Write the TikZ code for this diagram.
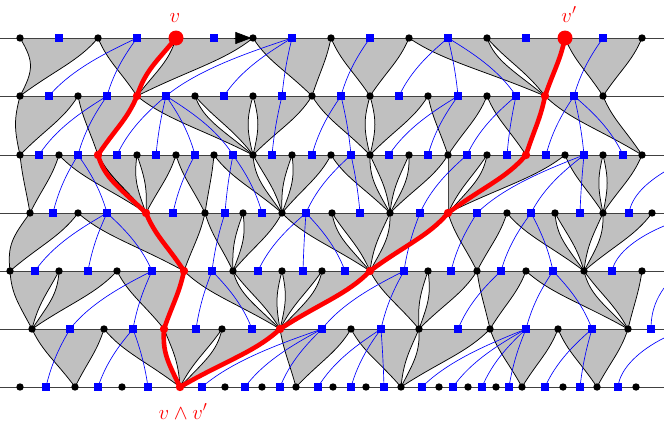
\documentclass[tikz,border=0pt]{standalone}
\usetikzlibrary{arrows.meta}
\pgfdeclarelayer{bg}
\pgfdeclarelayer{mid}
\pgfdeclarelayer{redl}
\pgfsetlayers{bg,mid,redl,main}
\definecolor{greyf}{RGB}{192,192,192}
\definecolor{bluesq}{RGB}{0,0,255}
\definecolor{redp}{RGB}{255,0,0}
\expandafter\def\csname yL1\endcsname{38}
\expandafter\def\csname yL2\endcsname{96}
\expandafter\def\csname yL3\endcsname{155}
\expandafter\def\csname yL4\endcsname{213}
\expandafter\def\csname yL5\endcsname{271}
\expandafter\def\csname yL6\endcsname{329}
\expandafter\def\csname yL7\endcsname{387}
\tikzset{
 dot/.style={circle,fill=black,inner sep=0pt,minimum size=7.4pt},
 reddot/.style={circle,fill=redp,inner sep=0pt,minimum size=8.4pt},
 bigred/.style={circle,fill=redp,inner sep=0pt,minimum size=15pt},
 sq/.style={rectangle,fill=bluesq,inner sep=0pt,minimum size=8pt},
 bedge/.style={black,line width=0.75pt},
 greyfill/.style={fill=greyf},
 hline/.style={black!75,line width=0.8pt},
 blueline/.style={bluesq,line width=0.65pt},
 redpath/.style={redp,line width=4.6pt,line cap=round},
 lab/.style={text=redp,font=\fontsize{22.5}{26}\selectfont,inner sep=0pt,anchor=base}
}
% controls of an edge from top x #2 on line #1 to bottom x #3, shift #4
\newcommand\edgectl[4]{%
  \pgfmathsetmacro\yt{\csname yL#1\endcsname}%
  \pgfmathtruncatemacro\lb{#1+1}%
  \pgfmathsetmacro\yb{\csname yL\lb\endcsname}%
  \pgfmathsetmacro\hh{\yb-\yt}%
  \pgfmathsetmacro\cax{#2+0.25*(#3-#2)+#4}%
  \pgfmathsetmacro\cay{\yt+0.4*\hh}%
  \pgfmathsetmacro\ccx{#3+0.45*(#2-#3)+#4}%
  \pgfmathsetmacro\ccy{\yb-0.45*\hh}%
}
\newcommand\gtri[6]{%
  \edgectl{#1}{#2}{#4}{#5}%
  \let\aax\cax\let\aay\cay\let\acx\ccx\let\acy\ccy
  \edgectl{#1}{#3}{#4}{#6}%
  \let\bax\cax\let\bcx\ccx
  \begin{pgfonlayer}{bg}%
    \fill[greyfill] (d#1-#2.center) -- (d#1-#3.center) .. controls (\bax,\aay) and (\bcx,\acy) .. (d\lb-#4.center) .. controls (\acx,\acy) and (\aax,\aay) .. (d#1-#2.center) -- cycle;%
  \end{pgfonlayer}%
  \begin{pgfonlayer}{mid}%
    \draw[bedge] (d#1-#2.center) .. controls (\aax,\aay) and (\acx,\acy) .. (d\lb-#4.center);%
    \draw[bedge] (d#1-#3.center) .. controls (\bax,\aay) and (\bcx,\acy) .. (d\lb-#4.center);%
  \end{pgfonlayer}%
}
\newcommand\rseg[4]{%
  \edgectl{#1}{#2}{#3}{#4}%
  \begin{pgfonlayer}{redl}%
    \draw[redpath] (d#1-#2.center) .. controls (\cax,\cay) and (\ccx,\ccy) .. (d\lb-#3.center);%
  \end{pgfonlayer}%
}
\newcommand\bl[3]{%
  \pgfmathsetmacro\yt{\csname yL#1\endcsname}%
  \pgfmathtruncatemacro\lb{#1+1}%
  \pgfmathsetmacro\yb{\csname yL\lb\endcsname}%
  \pgfmathsetmacro\hh{\yb-\yt}%
  \pgfmathsetmacro\pax{#2+0.35*(#3-#2)}%
  \pgfmathsetmacro\pay{\yt+0.25*\hh}%
  \pgfmathsetmacro\pcx{#3+0.25*(#2-#3)}%
  \pgfmathsetmacro\pcy{\yb-0.45*\hh}%
  \begin{pgfonlayer}{mid}%
    \draw[blueline] (s#1-#2.center) .. controls (\pax,\pay) and (\pcx,\pcy) .. (s\lb-#3.center);%
  \end{pgfonlayer}%
}
\begin{document}
\begin{tikzpicture}[x=1pt,y=-1pt]
\useasboundingbox (0,0) rectangle (664,423);
% ---- dots
\foreach \x in {20,98,253,331,409,487,642} \node[dot] (d1-\x) at (\x,38) {};
\foreach \x in {176,565} \node[bigred] (d1-\x) at (\x,38) {};
\foreach \x in {20,78,195,253,312,370,428,487,603} \node[dot] (d2-\x) at (\x,96) {};
\foreach \x in {137,545} \node[reddot] (d2-\x) at (\x,96) {};
\foreach \x in {20,59,137,176,214,253,292,331,370,409,448,487,565,603,642} \node[dot] (d3-\x) at (\x,155) {};
\foreach \x in {98,526} \node[reddot] (d3-\x) at (\x,155) {};
\foreach \x in {30,78,205,243,282,332,390,507,555,603,652} \node[dot] (d4-\x) at (\x,213) {};
\foreach \x in {146,448} \node[reddot] (d4-\x) at (\x,213) {};
\foreach \x in {10,59,117,233,282,322,428,477,526,584,642} \node[dot] (d5-\x) at (\x,271) {};
\foreach \x in {184,370} \node[reddot] (d5-\x) at (\x,271) {};
\foreach \x in {32,104,222,351,419,490,558,628} \node[dot] (d6-\x) at (\x,329) {};
\foreach \x in {164,280} \node[reddot] (d6-\x) at (\x,329) {};
\foreach \x in {20,75,122,225,262,296,333,366,401,439,468,496,522,563,597,636} \node[dot] (d7-\x) at (\x,387) {};
\node[reddot] (d7-180) at (180,387) {};
% ---- squares
\foreach \x in {59,137,214,292,370,448,526,603} \node[sq] (s1-\x) at (\x,38) {};
\foreach \x in {49,107,166,224,282,341,399,458,516,574} \node[sq] (s2-\x) at (\x,96) {};
\foreach \x in {39,78,117,156,195,233,272,312,351,389,428,467,507,546,584,623} \node[sq] (s3-\x) at (\x,155) {};
\foreach \x in {53,107,173,225,262,306,360,420,477,531,580,629} \node[sq] (s4-\x) at (\x,213) {};
\foreach \x in {35,88,152,212,258,303,345,404,451,501,553,612} \node[sq] (s5-\x) at (\x,271) {};
\foreach \x in {70,133,196,252,322,381,458,526,592,651} \node[sq] (s6-\x) at (\x,329) {};
\foreach \x in {46,98,148,202,245,280,318,351,384,422,453,482,509,545,580,618} \node[sq] (s7-\x) at (\x,387) {};
% ---- grey triangles and black edges
\gtri{1}{20}{98}{20}{14}{0}
\gtri{1}{98}{176}{137}{0}{-9}
\gtri{1}{176}{253}{137}{3}{0}
\gtri{1}{253}{331}{312}{0}{0}
\gtri{1}{331}{409}{370}{0}{0}
\gtri{1}{409}{487}{545}{0}{-6}
\gtri{1}{487}{565}{545}{6}{0}
\gtri{1}{565}{642}{603}{0}{0}
%
\gtri{2}{20}{78}{20}{-6}{0}
\gtri{2}{78}{137}{98}{0}{0}
\gtri{2}{137}{195}{253}{0}{-6}
\gtri{2}{195}{253}{253}{6}{-6.5}
\gtri{2}{253}{312}{253}{6.5}{0}
\gtri{2}{312}{370}{370}{0}{-6.5}
\gtri{2}{370}{428}{370}{6.5}{0}
\gtri{2}{428}{487}{448}{0}{0}
\gtri{2}{487}{545}{526}{0}{0}
\gtri{2}{545}{603}{642}{0}{0}
%
\gtri{3}{20}{59}{30}{0}{0}
\gtri{3}{59}{98}{146}{0}{0}
\gtri{3}{98}{137}{146}{0}{-5.5}
\gtri{3}{137}{176}{146}{5.5}{0}
\gtri{3}{176}{214}{205}{0}{0}
\gtri{3}{214}{253}{282}{0}{-5.5}
\gtri{3}{253}{292}{282}{5.5}{-5.5}
\gtri{3}{292}{331}{282}{5.5}{0}
\gtri{3}{331}{370}{390}{0}{-5.5}
\gtri{3}{370}{409}{390}{5.5}{-5.5}
\gtri{3}{409}{448}{390}{5.5}{0}
\gtri{3}{448}{487}{448}{0}{-5.5}
\gtri{3}{487}{526}{448}{5.5}{0}
\gtri{3}{526}{565}{448}{0}{0}
\gtri{3}{565}{603}{603}{0}{-5.5}
\gtri{3}{603}{642}{603}{5.5}{0}
%
\gtri{4}{30}{78}{10}{-12}{0}
\gtri{4}{78}{146}{184}{0}{0}
\gtri{4}{146}{205}{184}{0}{0}
\gtri{4}{205}{243}{233}{0}{-5.5}
\gtri{4}{243}{282}{233}{5.5}{0}
\gtri{4}{282}{332}{370}{0}{-5.5}
\gtri{4}{332}{390}{370}{5.5}{-5.5}
\gtri{4}{390}{448}{370}{5.5}{0}
\gtri{4}{448}{507}{477}{0}{0}
\gtri{4}{507}{555}{584}{0}{-5.5}
\gtri{4}{555}{603}{584}{5.5}{-5.5}
\gtri{4}{603}{652}{584}{5.5}{0}
%
\gtri{5}{10}{59}{32}{-4}{-5.5}
\gtri{5}{59}{117}{32}{5.5}{0}
\gtri{5}{117}{184}{164}{0}{0}
\gtri{5}{184}{233}{280}{0}{-5.5}
\gtri{5}{233}{282}{280}{5.5}{-5.5}
\gtri{5}{282}{322}{280}{5.5}{-5.5}
\gtri{5}{322}{370}{280}{5.5}{0}
\gtri{5}{370}{428}{419}{0}{-5.5}
\gtri{5}{428}{477}{419}{5.5}{0}
\gtri{5}{477}{526}{490}{0}{0}
\gtri{5}{526}{584}{628}{0}{-5.5}
\gtri{5}{584}{642}{628}{5.5}{0}
%
\gtri{6}{32}{104}{75}{0}{0}
\gtri{6}{104}{164}{180}{0}{-5.5}
\gtri{6}{164}{222}{180}{5.5}{-5.5}
\gtri{6}{222}{280}{180}{5.5}{0}
\gtri{6}{280}{351}{296}{0}{0}
\gtri{6}{351}{419}{401}{0}{-5.5}
\gtri{6}{419}{490}{401}{5.5}{0}
\gtri{6}{490}{558}{522}{0}{0}
\gtri{6}{558}{628}{597}{0}{0}
% ---- horizontal lines
\foreach \i/\y in {1/38,2/96,3/155,4/213,5/271,6/329,7/387}{
  \coordinate (hl\i) at (0,\y);
  \coordinate (hr\i) at (664,\y);
}
\begin{pgfonlayer}{mid}
\foreach \i in {1,...,7} \draw[hline] (hl\i) -- (hr\i);
\coordinate (arrS) at (234,38);
\draw[line width=0.6pt,-{Triangle[length=16pt,width=12pt]},shorten >=1.6pt] (arrS) -- (d1-253.center);
\end{pgfonlayer}
% ---- blue tree
\bl{1}{137}{49}\bl{1}{137}{107}\bl{1}{292}{166}\bl{1}{292}{224}\bl{1}{292}{282}
\bl{1}{370}{341}\bl{1}{448}{399}\bl{1}{448}{458}\bl{1}{448}{516}\bl{1}{603}{574}
\bl{2}{107}{39}\bl{2}{107}{78}\bl{2}{166}{117}\bl{2}{166}{156}\bl{2}{166}{195}\bl{2}{166}{233}
\bl{2}{282}{272}\bl{2}{341}{312}\bl{2}{341}{351}\bl{2}{458}{389}\bl{2}{458}{428}
\bl{2}{516}{467}\bl{2}{516}{507}\bl{2}{574}{546}\bl{2}{574}{584}\bl{2}{574}{623}
\bl{3}{78}{53}\bl{3}{78}{107}\bl{3}{195}{173}\bl{3}{233}{225}\bl{3}{233}{262}
\bl{3}{351}{306}\bl{3}{351}{360}\bl{3}{467}{420}\bl{3}{584}{477}\bl{3}{584}{531}\bl{3}{584}{580}
\bl{4}{107}{35}\bl{4}{107}{88}\bl{4}{107}{152}\bl{4}{225}{212}\bl{4}{306}{258}\bl{4}{306}{303}
\bl{4}{306}{345}\bl{4}{420}{404}\bl{4}{477}{451}\bl{4}{531}{501}\bl{4}{531}{553}
\bl{5}{152}{70}\bl{5}{152}{133}\bl{5}{212}{196}\bl{5}{212}{252}\bl{5}{404}{322}\bl{5}{404}{381}
\bl{5}{501}{458}\bl{5}{553}{526}\bl{5}{553}{592}
\bl{6}{70}{46}\bl{6}{133}{98}\bl{6}{133}{148}\bl{6}{322}{202}\bl{6}{322}{245}\bl{6}{322}{280}
\bl{6}{381}{318}\bl{6}{381}{351}\bl{6}{381}{384}\bl{6}{526}{422}\bl{6}{526}{453}\bl{6}{526}{482}
\bl{6}{526}{509}\bl{6}{592}{545}\bl{6}{592}{580}
\coordinate (e3) at (664,172);
\coordinate (e4) at (664,226);
\coordinate (e5) at (664,288);
\coordinate (e6) at (664,338);
\begin{pgfonlayer}{mid}
\draw[blueline] (e3) .. controls (648,182) and (632,195) .. (s4-629.center);
\draw[blueline] (e4) .. controls (640,236) and (616,252) .. (s5-612.center);
\draw[blueline] (e5) .. controls (657,298) and (651,310) .. (s6-651.center);
\draw[blueline] (e6) .. controls (640,350) and (620,368) .. (s7-618.center);
\end{pgfonlayer}
% ---- red geodesics
\rseg{1}{176}{137}{-9}\rseg{2}{137}{98}{0}\rseg{3}{98}{146}{-5.5}
\rseg{4}{146}{184}{0}\rseg{5}{184}{164}{0}\rseg{6}{164}{180}{-5.5}
\rseg{1}{565}{545}{0}\rseg{2}{545}{526}{0}\rseg{3}{526}{448}{0}
\rseg{4}{448}{370}{0}\rseg{5}{370}{280}{0}\rseg{6}{280}{180}{0}
% ---- labels
\node[lab] (lv) at (175,22) {$v$};
\node[lab] (lvp) at (569,22) {$v'$};
\node[lab] (lvw) at (183,419) {$v\wedge v'$};
\end{tikzpicture}
\end{document}
